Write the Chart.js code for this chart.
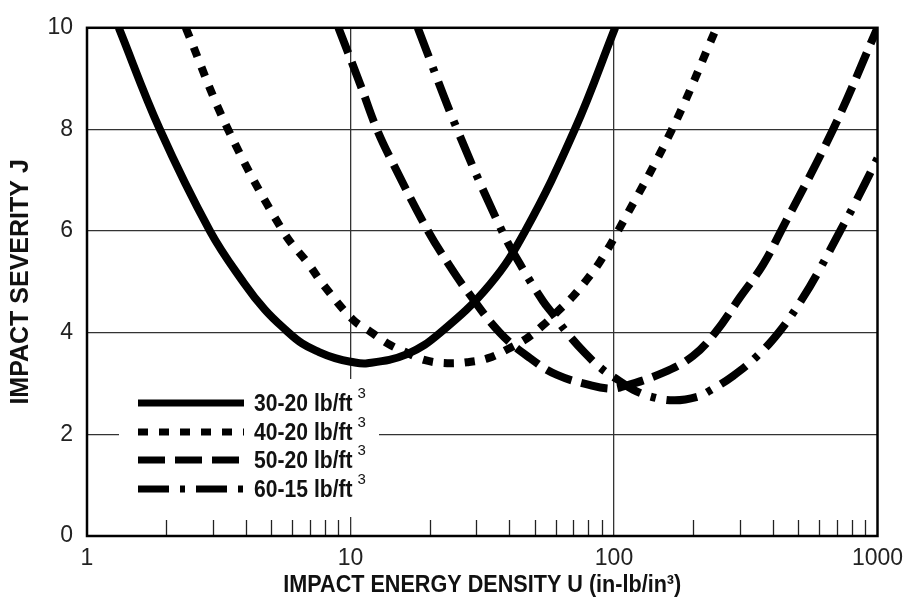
<!DOCTYPE html>
<html><head><meta charset="utf-8">
<script src="https://cdn.jsdelivr.net/npm/chart.js@4.4.1/dist/chart.umd.min.js"></script>
<style>html,body{margin:0;padding:0;background:#fff;} #wrap{width:920px;height:611px;}</style>
</head><body><div id="wrap"><canvas id="c" width="920" height="611"></canvas></div>
<script>
// ---- data ----
const seriesLabels = ['30-20 lb/ft³', '40-20 lb/ft³', '50-20 lb/ft³', '60-15 lb/ft³'];

const u30 = [1.32, 1.89, 2.93, 3.94, 4.74, 5.69, 6.55, 7.6, 8.74, 10, 11.6, 16.4, 21.9, 33.8, 46, 71, 101];
const j30 = [10, 8, 6, 4.98, 4.45, 4.05, 3.79, 3.62, 3.50, 3.43, 3.40, 3.58, 4.0, 4.95, 6.0, 8.0, 10];

const u40 = [2.37, 3.43, 5.54, 6.96, 7.87, 10.2, 11.9, 13.8, 15.8, 19.2, 23.3, 27.7, 33.3, 39.6, 46.7, 53.6, 61.4, 70, 79, 88.5, 103.5, 166, 245];
const j40 = [10, 8, 6, 5.34, 4.95, 4.26, 4.02, 3.79, 3.64, 3.46, 3.40, 3.42, 3.50, 3.68, 3.89, 4.14, 4.43, 4.72, 5.05, 5.4, 6.0, 8.0, 10];

const u50 = [9.0, 10.9, 12.6, 14.5, 19.7, 23.9, 27.7, 36.9, 48, 60.8, 82.5, 96, 105, 153, 199, 242, 301, 368, 430, 678, 1000];
const j50 = [10, 8.88, 8.0, 7.33, 6.0, 5.3, 4.82, 4.0, 3.50, 3.17, 2.96, 2.90, 2.92, 3.21, 3.54, 4.0, 4.7, 5.34, 6.0, 8.0, 10];

const u60 = [18.0, 25.4, 37.6, 44.8, 53.8, 58.6, 66.3, 77.6, 90.8, 103, 118, 141, 170, 207, 231, 283, 349, 427, 520, 605, 721, 807, 1000];
const j60 = [10, 8.0, 6.0, 5.28, 4.62, 4.37, 4.0, 3.6, 3.27, 3.08, 2.88, 2.73, 2.67, 2.74, 2.86, 3.15, 3.54, 4.04, 4.68, 5.26, 6.0, 6.47, 7.43];

const xTickLabels = [1, 10, 100, 1000];
const xMinorTicks = [2,3,4,5,6,7,8,9,20,30,40,50,60,70,80,90,200,300,400,500,600,700,800,900];
const yMin = 0, yMax = 10, yStep = 2;
const xTitle = 'IMPACT ENERGY DENSITY U (in-lb/in³)';
const yTitle = 'IMPACT SEVERITY J';

// ---- styles ----
const FF = '"Liberation Sans", Arial, Helvetica, sans-serif';
const dashes = [[], [10, 11], [27, 10], [31, 11, 5, 11]];
const toPts = (u, j) => u.map((v, i) => ({x: v, y: j[i]}));
const seriesU = [u30, u40, u50, u60];
const seriesJ = [j30, j40, j50, j60];

const datasets = seriesLabels.map((lab, i) => ({
  label: lab,
  data: toPts(seriesU[i], seriesJ[i]),
  borderColor: '#000',
  borderWidth: 8,
  borderDash: dashes[i],
  borderCapStyle: 'butt',
  borderJoinStyle: 'round',
  pointRadius: 0,
  fill: false,
  tension: 0.4
}));

const overlay = {
  id: 'overlay',
  afterDatasetsDraw(chart) {
    const ctx = chart.ctx, a = chart.chartArea;
    const xs = chart.scales.x;
    ctx.save();
    // minor ticks inside bottom
    ctx.strokeStyle = '#222'; ctx.lineWidth = 1.3;
    xMinorTicks.forEach(v => {
      const px = Math.round(xs.getPixelForValue(v)) + 0.5;
      ctx.beginPath(); ctx.moveTo(px, a.bottom); ctx.lineTo(px, a.bottom - 16); ctx.stroke();
    });
    // legend
    const lx0 = 119, lx1 = 379, ly0 = 379, ly1 = 517;
    ctx.fillStyle = '#fff';
    ctx.fillRect(lx0, ly0, lx1 - lx0, ly1 - ly0);
    const rows = [403, 432, 460, 489];
    chart.data.datasets.forEach((ds, i) => {
      const y = rows[i];
      ctx.strokeStyle = '#000'; ctx.lineWidth = 7; ctx.lineCap = 'butt';
      ctx.setLineDash(ds.borderDash);
      ctx.beginPath(); ctx.moveTo(138, y); ctx.lineTo(244, y); ctx.stroke();
      ctx.setLineDash([]);
      const base = ds.label.replace('³', '');
      ctx.fillStyle = '#111';
      ctx.textBaseline = 'middle'; ctx.textAlign = 'left';
      ctx.save();
      ctx.translate(254, y + 1);
      ctx.scale(0.88, 1);
      ctx.font = 'bold 24px ' + FF;
      ctx.fillText(base, 0, 0);
      const w = ctx.measureText(base).width * 0.88;
      ctx.restore();
      ctx.font = '15px ' + FF;
      ctx.fillText('3', 254 + w + 5, y - 9);
    });
    // frame
    ctx.strokeStyle = '#000'; ctx.lineWidth = 2.5;
    ctx.strokeRect(a.left, a.top, a.right - a.left, a.bottom - a.top);
    // x axis title (condensed)
    ctx.fillStyle = '#111';
    ctx.textAlign = 'center'; ctx.textBaseline = 'middle';
    ctx.save();
    ctx.translate((a.left + a.right) / 2, 585);
    ctx.scale(0.9, 1);
    ctx.font = 'bold 24px ' + FF;
    ctx.fillText(xTitle, 0, 0);
    ctx.restore();
    ctx.restore();
  }
};

new Chart(document.getElementById('c'), {
  type: 'line',
  data: { datasets },
  plugins: [overlay],
  options: {
    responsive: false,
    animation: false,
    devicePixelRatio: 1,
    layout: { padding: { left: 0, right: 42.5, top: 19, bottom: 0 } },
    plugins: { legend: { display: false }, tooltip: { enabled: false } },
    scales: {
      x: {
        type: 'logarithmic', min: 1, max: 1000,
        afterFit: s => { s.height = 75; },
        border: { display: false },
        grid: {
          drawTicks: false,
          color: c => (c.tick && [10, 100].includes(c.tick.value)) ? '#333' : 'rgba(0,0,0,0)',
          lineWidth: 1.3
        },
        ticks: {
          autoSkip: false, maxRotation: 0, padding: 9,
          color: '#222', font: { family: FF, size: 23 },
          callback: v => xTickLabels.includes(v) ? String(v) : ''
        },
        title: { display: false }
      },
      y: {
        min: yMin, max: yMax,
        afterFit: s => { s.width = 87; },
        border: { display: false },
        grid: { drawTicks: false, color: '#333', lineWidth: 1.3 },
        ticks: {
          stepSize: yStep, padding: 14,
          color: '#222', font: { family: FF, size: 23 }
        },
        title: {
          display: true, text: yTitle,
          color: '#111', font: { family: FF, size: 25, weight: 'bold' },
          padding: { top: 6, bottom: 0 }
        }
      }
    }
  }
});
</script></body></html>
